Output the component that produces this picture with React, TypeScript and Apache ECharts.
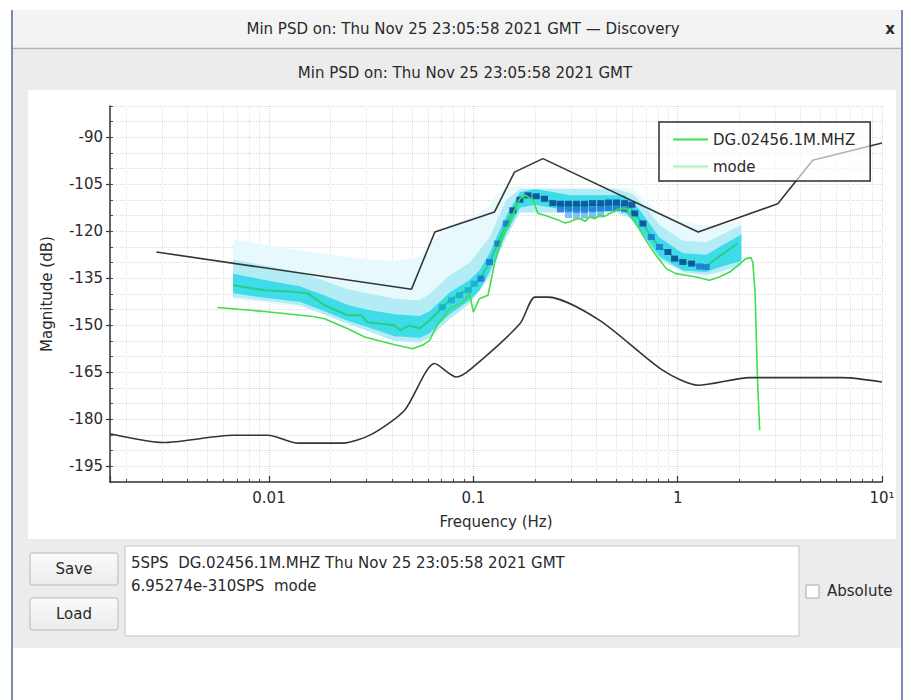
import React, { useEffect, useRef } from 'react';
import * as echarts from 'echarts';

const FONT = '"DejaVu Sans", "Noto Sans", sans-serif';

// Axis ranges and tick labels
const X_MIN = 1 / 600;
const X_MAX = 10;
const Y_MIN = -200;
const Y_MAX = -80;
const Y_TICKS = [-195, -180, -165, -150, -135, -120, -105, -90];

// Peterson high noise model (upper black line)
const HIGH_MODEL_F = [0.00281, 0.0498, 0.0648, 0.127, 0.159, 0.219, 1.26, 3.09, 4.58, 10];
const HIGH_MODEL_DB = [-126.6, -138.5, -120.2, -113.8, -101.1, -96.8, -120.2, -111.2, -97.3, -91.8];

// Peterson low noise model (lower black line)
const LOW_MODEL_F = [0.001667, 0.00303, 0.00667, 0.0099, 0.0139, 0.023, 0.0317, 0.0461, 0.0647, 0.0826, 0.0977, 0.169, 0.2, 0.232, 0.415, 0.847, 1.26, 2.25, 6.43, 10];
const LOW_MODEL_DB = [-184.6, -187.4, -185.1, -185.1, -187.6, -187.6, -184.8, -177.1, -162.2, -166.5, -163.8, -149.5, -141, -141, -148.4, -164.4, -169.1, -166.7, -166.7, -168.1];

// Min PSD of DG.02456.1M.MHZ
const DG_F = [0.0056, 0.0095, 0.0164, 0.0187, 0.0243, 0.0294, 0.0412, 0.0504, 0.0566, 0.0611, 0.067, 0.0766, 0.089, 0.0959, 0.1, 0.107, 0.118, 0.127, 0.137, 0.15, 0.159, 0.169, 0.181, 0.196, 0.207, 0.222, 0.236, 0.262, 0.28, 0.295, 0.315, 0.331, 0.352, 0.371, 0.392, 0.415, 0.44, 0.465, 0.52, 0.559, 0.625, 0.7, 0.785, 0.88, 0.98, 1.1, 1.23, 1.43, 1.6, 1.8, 2.02, 2.16, 2.28, 2.33, 2.39, 2.46, 2.52];
const DG_DB = [-144.3, -145.6, -147.2, -147.9, -151.1, -153.7, -156.2, -157.5, -156.3, -154.8, -149.5, -144.7, -142.6, -139.9, -145.8, -141.5, -140.4, -130.3, -122.9, -117.5, -113.3, -109.6, -108.5, -110.1, -114.3, -114.8, -115.4, -116.5, -117.3, -117.0, -116.2, -115.9, -116.8, -115.4, -116.0, -114.9, -115.2, -114.3, -112.8, -112.6, -117.5, -122.9, -127.7, -131.9, -133.5, -134, -134.6, -135.6, -134.6, -133, -130.3, -128.7, -128.4, -129.8, -138.8, -167.5, -183.5];

// Mode of the PSD distribution
const MODE_F = [0.00667, 0.0095, 0.0126, 0.0155, 0.0187, 0.0243, 0.0283, 0.0303, 0.0412, 0.0436, 0.0488, 0.0546, 0.0611, 0.0684, 0.0766, 0.0857, 0.0959, 0.107, 0.12, 0.1316, 0.145, 0.156, 0.169, 0.185, 0.203, 0.223, 0.245, 0.273, 0.331, 0.415, 0.502, 0.582, 0.616, 0.676, 0.743, 0.815, 0.896, 0.966, 1.06, 1.17, 1.28, 1.38, 1.6, 1.96];
const MODE_DB = [-137.2, -138.8, -139.2, -139.8, -143.6, -146.8, -146.8, -149, -150, -151.6, -150, -151, -148.4, -145.2, -142, -139.9, -138.3, -135.6, -129.8, -123.9, -117.5, -113.3, -109.9, -108.5, -108.8, -109.6, -111, -111.4, -111.7, -111.7, -111.4, -112, -114.3, -117.5, -121.8, -125, -126.6, -128.7, -129.8, -130.3, -131.2, -131, -128, -123.9];

// PDF band: [frequency, top dB, bottom dB]
const PDF_OUTER = [
  [0.00667, -122.5, -141.5], [0.01, -124.5, -143], [0.0141, -126, -144], [0.02, -127.5, -146.5],
  [0.03, -129, -150], [0.0412, -129.5, -155], [0.0546, -128, -156], [0.0611, -124, -154],
  [0.0766, -118, -148], [0.0959, -116, -143], [0.12, -112, -135], [0.1316, -108, -127],
  [0.145, -106, -119], [0.169, -105.5, -114], [0.25, -106, -114], [0.5, -106, -114],
  [0.6, -106.5, -116], [0.7, -110, -121], [0.815, -114, -127], [1.0, -116.5, -131],
  [1.28, -118, -133.5], [1.6, -118, -133.5], [2.05, -116, -132],
];
const PDF_MID = [
  [0.00667, -129, -141], [0.0141, -133, -143.5], [0.0243, -138.5, -149.5], [0.0412, -141.5, -155],
  [0.0546, -142, -155.5], [0.0611, -140, -154], [0.0766, -134, -148], [0.0959, -130, -143],
  [0.12, -122, -134.5], [0.1316, -116, -128], [0.145, -110, -122], [0.169, -106.5, -114],
  [0.5, -106.5, -114], [0.6, -108, -116], [0.7, -112.5, -122], [0.815, -118, -129],
  [1.06, -123, -133], [1.38, -123.5, -134], [1.6, -121.5, -133], [2.05, -118, -131],
];
const PDF_CORE = [
  [0.00667, -133.5, -139.8], [0.0095, -135.5, -141.2], [0.0141, -137.5, -142.5], [0.0187, -140.5, -145.5],
  [0.0243, -143.5, -148.5], [0.0303, -145, -150.5], [0.0412, -146.5, -153.5], [0.0546, -147, -154],
  [0.0611, -145.5, -152.5], [0.0766, -139.5, -146.5], [0.0959, -135.5, -142], [0.107, -132.5, -139],
  [0.12, -127, -133], [0.1316, -121, -127], [0.145, -115, -120.5], [0.169, -107.5, -112.5],
  [0.2, -106.5, -111.5], [0.3, -108.5, -113.5], [0.55, -108.5, -113.5], [0.65, -113, -119.5],
  [0.815, -122, -128], [1.06, -127, -132.5], [1.38, -127.5, -133], [1.6, -125, -131.5], [2.05, -121, -129.5],
];

// High-density PDF cells: [frequency, dB, level]
const PDF_CELLS = [
  [0.0705, -144.2, 1], [0.0782, -142, 1], [0.0857, -140.4, 1], [0.0945, -138.8, 1], [0.101, -136.7, 1],
  [0.109, -135.1, 2], [0.12, -129.8, 2], [0.1316, -123.9, 2], [0.145, -117.5, 2], [0.156, -113.3, 3],
  [0.169, -109.9, 3], [0.185, -108.5, 3], [0.203, -108.8, 3], [0.223, -109.6, 3], [0.245, -111, 3],
  [0.267, -111.2, 3], [0.292, -111.2, 3], [0.32, -111.2, 3], [0.35, -111.2, 3], [0.383, -111, 3],
  [0.42, -111, 3], [0.459, -110.8, 3], [0.502, -110.8, 3], [0.55, -111, 3], [0.597, -111.5, 3],
  [0.267, -113, 2], [0.292, -113, 2], [0.32, -113.2, 2], [0.35, -113.2, 2], [0.383, -113, 2],
  [0.42, -112.8, 2], [0.459, -112.6, 2], [0.502, -112.6, 2], [0.55, -113, 2],
  [0.292, -114.8, 0], [0.32, -115, 0], [0.35, -115, 0], [0.383, -114.8, 0], [0.42, -114.6, 0],
  [0.616, -114.3, 3], [0.676, -117.5, 3], [0.743, -121.8, 2], [0.815, -125, 2], [0.896, -126.6, 3],
  [0.966, -128.7, 3], [1.06, -129.8, 3], [1.17, -130.3, 3], [1.28, -131.2, 2], [1.38, -131.4, 2],
];
const CELL_COLORS = ['#5fb4ee', '#1aa9d2', '#1b6ed6', '#0b3a98'];

const DG_NAME = 'DG.02456.1M.MHZ';
const MODE_NAME = 'mode';

const zip = (f: number[], d: number[]) => f.map((v, i) => [v, d[i]]);

const bandSeries = (rows: number[][], color: string, z: number) => ({
  type: 'custom',
  z,
  silent: true,
  clip: true,
  data: rows,
  renderItem: (params: any, api: any) => {
    if (params.dataIndex !== 0) return null;
    const pts: number[][] = [];
    for (let i = 0; i < rows.length; i++) pts.push(api.coord([rows[i][0], rows[i][1]]));
    for (let i = rows.length - 1; i >= 0; i--) pts.push(api.coord([rows[i][0], rows[i][2]]));
    return { type: 'polygon', shape: { points: pts }, style: { fill: color } };
  },
});

const isDecade = (v: number) => {
  const l = Math.log10(v);
  return Math.abs(l - Math.round(l)) < 1e-6;
};

const txt = (text: string, x: number, y: number, extra: any = {}) => ({
  type: 'text',
  z: 20,
  silent: true,
  style: {
    text, x, y,
    fill: '#2a2a2a',
    fontFamily: FONT,
    fontSize: 15,
    align: 'left',
    verticalAlign: 'middle',
    ...extra,
  },
});

export default function App() {
  const ref = useRef<HTMLDivElement>(null);
  useEffect(() => {
    if (!ref.current) return;
    const chart = echarts.init(ref.current, undefined, { renderer: 'svg' });
    const btnFill = new echarts.graphic.LinearGradient(0, 0, 0, 1, [
      { offset: 0, color: '#fbfbfb' },
      { offset: 1, color: '#ebebeb' },
    ]);
    const option: any = {
      animation: false,
      backgroundColor: '#ffffff',
      textStyle: { fontFamily: FONT },
      graphic: [
        { type: 'rect', z: -10, silent: true, shape: { x: 12, y: 10, width: 890, height: 39 }, style: { fill: '#f3f3f3' } },
        { type: 'line', z: -9, silent: true, shape: { x1: 12, y1: 48.5, x2: 902, y2: 48.5 }, style: { stroke: '#b2b2b2', lineWidth: 1.5 } },
        { type: 'rect', z: -10, silent: true, shape: { x: 12, y: 49.5, width: 890, height: 598.5 }, style: { fill: '#ececec' } },
        { type: 'rect', z: -9, silent: true, shape: { x: 28, y: 90, width: 868, height: 449 }, style: { fill: '#ffffff' } },
        { type: 'line', z: 30, silent: true, shape: { x1: 12, y1: 10, x2: 12, y2: 700 }, style: { stroke: '#7f89b8', lineWidth: 2 } },
        { type: 'line', z: 30, silent: true, shape: { x1: 902, y1: 10, x2: 902, y2: 700 }, style: { stroke: '#7f89b8', lineWidth: 2 } },
        txt('Min PSD on: Thu Nov 25 23:05:58 2021 GMT \u2014 Discovery', 463, 29, { align: 'center' }),
        txt('x', 890, 29, { align: 'center', fontWeight: 'bold', fontSize: 15 }),
        txt('Min PSD on: Thu Nov 25 23:05:58 2021 GMT', 465, 73, { align: 'center' }),
        { type: 'rect', z: -8, silent: true, shape: { x: 30, y: 553, width: 88, height: 32, r: 2 }, style: { fill: btnFill, stroke: '#b9b9b9', lineWidth: 1 } },
        txt('Save', 74, 569, { align: 'center' }),
        { type: 'rect', z: -8, silent: true, shape: { x: 30, y: 598, width: 88, height: 32, r: 2 }, style: { fill: btnFill, stroke: '#b9b9b9', lineWidth: 1 } },
        txt('Load', 74, 614, { align: 'center' }),
        { type: 'rect', z: -8, silent: true, shape: { x: 125, y: 546, width: 674, height: 90 }, style: { fill: '#ffffff', stroke: '#c4c4c4', lineWidth: 1 } },
        txt('5SPS  DG.02456.1M.MHZ Thu Nov 25 23:05:58 2021 GMT', 131, 563),
        txt('6.95274e-310SPS  mode', 131, 586),
        { type: 'rect', z: -8, silent: true, shape: { x: 806, y: 585, width: 13, height: 13 }, style: { fill: '#ffffff', stroke: '#a8a8a8', lineWidth: 1 } },
        txt('Absolute', 827, 591),
      ],
      grid: { left: 110, right: 29, top: 106, bottom: 218, containLabel: false },
      legend: {
        orient: 'vertical',
        left: 659,
        top: 122,
        padding: [10, 15, 7, 14],
        itemGap: 12,
        itemWidth: 35,
        itemHeight: 2,
        icon: 'rect',
        backgroundColor: 'rgba(255,255,255,0.62)',
        borderColor: '#2e2e2e',
        borderWidth: 1.5,
        borderRadius: 0,
        selectedMode: false,
        z: 10,
        textStyle: { fontFamily: FONT, fontSize: 15, color: '#2a2a2a' },
        data: [
          { name: DG_NAME, itemStyle: { color: '#3ede4c' } },
          { name: MODE_NAME, itemStyle: { color: '#a8efc0' } },
        ],
      },
      xAxis: {
        type: 'log',
        logBase: 10,
        min: X_MIN,
        max: X_MAX,
        name: 'Frequency (Hz)',
        nameLocation: 'middle',
        nameGap: 32,
        nameTextStyle: { fontFamily: FONT, fontSize: 15, color: '#2a2a2a' },
        axisLine: { show: true, onZero: false, lineStyle: { color: '#333', width: 1.5 } },
        axisTick: { show: true, inside: true, length: 6, lineStyle: { color: '#333', width: 1.2 } },
        minorTick: { show: true, splitNumber: 9, length: 3, lineStyle: { color: '#444', width: 1 } },
        axisLabel: {
          fontFamily: FONT,
          fontSize: 15,
          color: '#2a2a2a',
          margin: 8,
          formatter: (v: number) => {
            if (!isDecade(v)) return '';
            if (Math.abs(v - 10) < 1e-9) return '10\u00b9';
            return String(Number(v.toPrecision(6)));
          },
        },
        splitLine: { show: true, lineStyle: { color: '#d6d6d6', type: 'dotted', width: 1 } },
        minorSplitLine: { show: true, lineStyle: { color: '#e4e4e4', type: 'dotted', width: 1 } },
      },
      yAxis: [
        {
          type: 'value',
          min: Y_MIN,
          max: Y_MAX,
          interval: 5,
          name: 'Magnitude (dB)',
          nameLocation: 'middle',
          nameGap: 56,
          nameTextStyle: { fontFamily: FONT, fontSize: 15, color: '#2a2a2a' },
          axisLine: { show: true, onZero: false, lineStyle: { color: '#333', width: 1.5 } },
          axisTick: { show: true, customValues: Y_TICKS, length: 4, lineStyle: { color: '#333', width: 1.2 } },
          axisLabel: {
            customValues: Y_TICKS,
            fontFamily: FONT,
            fontSize: 15,
            color: '#2a2a2a',
            margin: 7,
            formatter: (v: number) => (v % 15 === 0 ? String(v) : ''),
          },
          splitLine: { show: false },
        },
        {
          type: 'value',
          min: Y_MIN,
          max: Y_MAX,
          interval: 5,
          position: 'left',
          offset: 0,
          axisLine: { show: false, onZero: false },
          axisTick: { show: true, inside: true, length: 3, lineStyle: { color: '#444', width: 1 } },
          axisLabel: { show: false },
          splitLine: { show: true, lineStyle: { color: '#dadada', type: 'dotted', width: 1 } },
        },
      ],
      series: [
        bandSeries(PDF_OUTER, '#e7f9fc', 1),
        bandSeries(PDF_MID, '#b4ecf6', 1),
        bandSeries(PDF_CORE, '#3edbe8', 1),
        {
          name: MODE_NAME,
          type: 'line',
          z: 3,
          symbol: 'none',
          silent: true,
          data: zip(MODE_F, MODE_DB),
          itemStyle: { color: '#27cf83' },
          lineStyle: { color: '#27cf83', width: 2 },
        },
        {
          type: 'scatter',
          z: 4,
          silent: true,
          symbol: 'rect',
          symbolSize: [7, 6],
          data: PDF_CELLS,
          itemStyle: { color: (p: any) => CELL_COLORS[p.value[2]] },
        },
        {
          name: DG_NAME,
          type: 'line',
          z: 5,
          symbol: 'none',
          silent: true,
          data: zip(DG_F, DG_DB),
          itemStyle: { color: '#3ede4c' },
          lineStyle: { color: '#3ede4c', width: 1.6 },
        },
        {
          name: 'high',
          type: 'line',
          z: 6,
          symbol: 'none',
          silent: true,
          data: zip(HIGH_MODEL_F, HIGH_MODEL_DB),
          lineStyle: { color: '#353535', width: 1.6 },
        },
        {
          name: 'low',
          type: 'line',
          z: 6,
          symbol: 'none',
          silent: true,
          smooth: 0.25,
          data: zip(LOW_MODEL_F, LOW_MODEL_DB),
          lineStyle: { color: '#353535', width: 1.6 },
        },
      ],
    };
    chart.setOption(option);
    return () => chart.dispose();
  }, []);
  return <div ref={ref} style={{ position: 'fixed', left: 0, top: 0, width: 911, height: 700 }} />;
}
